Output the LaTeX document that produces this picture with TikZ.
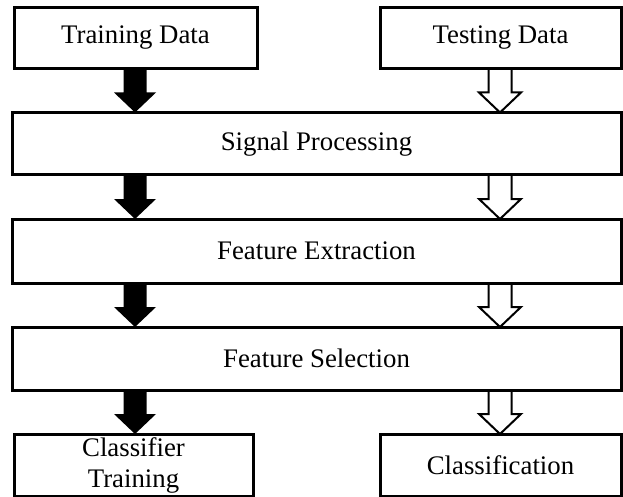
\documentclass[tikz,border=0pt]{standalone}
\usepackage{fontspec}
\setmainfont{Liberation Serif}
\usetikzlibrary{calc}
\pgfdeclarelayer{bg}
\pgfsetlayers{bg,main}
\tikzset{
  box/.style={draw, line width=3pt, inner sep=0pt, outer sep=0pt,
    font=\fontsize{26.8}{31}\selectfont, align=center},
  solidarrow/.style={fill=black, draw=none},
  openarrow/.style={fill=white, draw=black, line width=2pt, line join=miter},
}
\newcommand\blockarr[3]{%
  \coordinate (bs) at (#2);
  \coordinate (be) at (#3);
  \path[#1] ($(bs)+(-11.5,0)$) -- ($(be)+(-11.5,-20)$) -- ($(be)+(-21,-20)$)
    -- (be) -- ($(be)+(21,-20)$) -- ($(be)+(11.5,-20)$) -- ($(bs)+(11.5,0)$) -- cycle;}
\begin{document}
\begin{tikzpicture}[x=1pt,y=-1pt]
\useasboundingbox (0,0) rectangle (623,497);
\coordinate (Lx) at (135,0);
\coordinate (Rx) at (500,0);
\node[box, minimum width=243pt, minimum height=61pt] (td) at (135.5,38) {Training Data};
\node[box, minimum width=241pt, minimum height=61pt] (te) at (500.5,38) {Testing Data};
\node[box, minimum width=609pt, minimum height=62.5pt] (sp) at (316.5,143.75) {Signal Processing};
\node[box, minimum width=609pt, minimum height=64pt] (fe) at (316.5,251) {Feature Extraction};
\node[box, minimum width=609pt, minimum height=63pt] (fs) at (316.5,358.5) {Feature Selection};
\node[box, minimum width=239pt, minimum height=62pt] (ct) at (133.5,465) {Classifier\\Training};
\node[box, minimum width=241pt, minimum height=62pt] (cl) at (500.5,465) {Classification};
\begin{pgfonlayer}{bg}
\blockarr{solidarrow}{td.south -| Lx}{sp.north -| Lx}
\blockarr{solidarrow}{sp.south -| Lx}{fe.north -| Lx}
\blockarr{solidarrow}{fe.south -| Lx}{fs.north -| Lx}
\blockarr{solidarrow}{fs.south -| Lx}{ct.north -| Lx}
\blockarr{openarrow}{te.south -| Rx}{sp.north -| Rx}
\blockarr{openarrow}{sp.south -| Rx}{fe.north -| Rx}
\blockarr{openarrow}{fe.south -| Rx}{fs.north -| Rx}
\blockarr{openarrow}{fs.south -| Rx}{cl.north -| Rx}
\end{pgfonlayer}
\end{tikzpicture}
\end{document}
